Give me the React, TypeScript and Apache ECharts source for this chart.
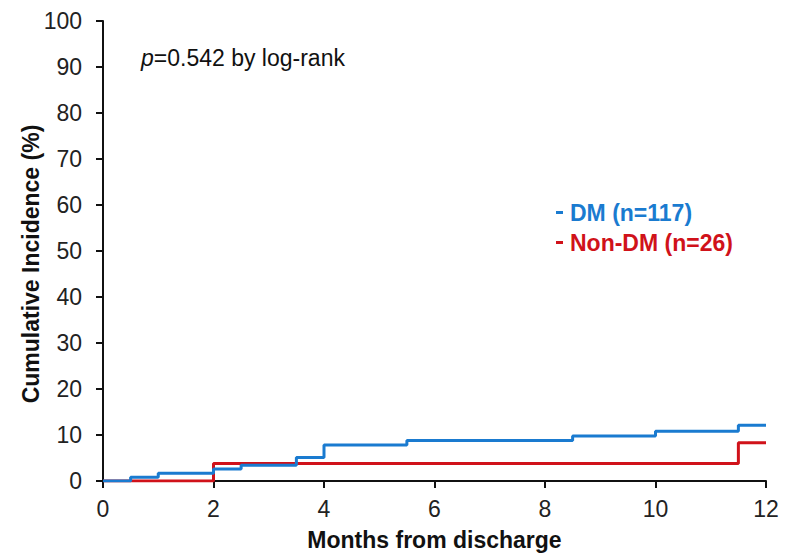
import React, { useEffect, useRef } from "react";
import * as echarts from "echarts";

const dmMonths = [0, 0.5, 1, 2, 2.5, 3.5, 4, 5.5, 8.5, 10, 11.5, 12];
const dmIncidence = [0, 0.8, 1.7, 2.6, 3.4, 5.1, 7.8, 8.8, 9.8, 10.8, 12.1, 12.1];
const nonDmMonths = [0, 2, 11.5, 12];
const nonDmIncidence = [0, 3.8, 8.3, 8.3];
const seriesNames = ["DM (n=117)", "Non-DM (n=26)"];
const pValueText = "=0.542 by log-rank";
const xAxisTitle = "Months from discharge";
const yAxisTitle = "Cumulative Incidence (%)";

const BLUE = "#1a7bd0";
const RED = "#d0121a";
const FONT = "Liberation Sans, Arial, sans-serif";
const FS = 23;

export default function App() {
  const ref = useRef<HTMLDivElement>(null);
  useEffect(() => {
    if (!ref.current) return;
    const chart = echarts.init(ref.current, null, { renderer: "svg" });
    const dmData = dmMonths.map((m, i) => [m, dmIncidence[i]]);
    const nonDmData = nonDmMonths.map((m, i) => [m, nonDmIncidence[i]]);
    chart.setOption({
      animation: false,
      backgroundColor: "#ffffff",
      textStyle: { fontFamily: FONT },
      grid: { left: 103, right: 19, top: 21, bottom: 74, containLabel: false },
      xAxis: {
        type: "value",
        min: 0,
        max: 12,
        interval: 2,
        name: xAxisTitle,
        nameLocation: "middle",
        nameGap: 47,
        nameTextStyle: { fontFamily: FONT, fontSize: FS, fontWeight: "bold", color: "#111" },
        axisLine: { show: true, onZero: false, lineStyle: { color: "#111", width: 2 } },
        axisTick: { show: true, length: 7, lineStyle: { color: "#111", width: 2 } },
        axisLabel: { fontFamily: FONT, fontSize: FS, color: "#222", margin: 16 },
        splitLine: { show: false },
      },
      yAxis: {
        type: "value",
        min: 0,
        max: 100,
        interval: 10,
        name: yAxisTitle,
        nameLocation: "middle",
        nameGap: 61,
        nameMoveOverlap: false,
        nameRotate: 90,
        nameTextStyle: {
          fontFamily: FONT,
          fontSize: FS,
          fontWeight: "bold",
          color: "#111",
          padding: [0, 26, 0, 0],
        },
        axisLine: { show: true, lineStyle: { color: "#111", width: 2 } },
        axisTick: { show: true, length: 7, lineStyle: { color: "#111", width: 2 } },
        axisLabel: { fontFamily: FONT, fontSize: FS, color: "#222", margin: 21 },
        splitLine: { show: false },
      },
      legend: {
        orient: "vertical",
        left: 551,
        top: 196,
        itemGap: 7,
        itemWidth: 7,
        itemHeight: 3,
        icon: "rect",
        data: [
          { name: seriesNames[0], itemStyle: { color: BLUE }, textStyle: { color: BLUE } },
          { name: seriesNames[1], itemStyle: { color: RED }, textStyle: { color: RED } },
        ],
        textStyle: { fontFamily: FONT, fontSize: FS, fontWeight: "bold", lineHeight: 23, padding: [0, 0, 0, 2] },
        selectedMode: false,
      },
      graphic: [
        {
          type: "text",
          left: 141,
          top: 46,
          style: {
            text: "{i|p}" + pValueText,
            font: `${FS}px ${FONT}`,
            fill: "#111",
            rich: {
              i: { fontStyle: "italic", fontSize: FS, fontFamily: FONT, fill: "#111" },
            },
          },
        },
      ],
      series: [
        {
          name: seriesNames[1],
          type: "line",
          step: "end",
          data: nonDmData,
          showSymbol: false,
          symbol: "none",
          lineStyle: { color: RED, width: 3 },
          itemStyle: { color: RED },
          z: 2,
        },
        {
          name: seriesNames[0],
          type: "line",
          step: "end",
          data: dmData,
          showSymbol: false,
          symbol: "none",
          lineStyle: { color: BLUE, width: 3 },
          itemStyle: { color: BLUE },
          z: 3,
        },
      ],
    });
    return () => chart.dispose();
  }, []);
  return (
    <div
      ref={ref}
      style={{ position: "fixed", left: 0, top: 0, width: 785, height: 556, background: "#fff" }}
    />
  );
}
